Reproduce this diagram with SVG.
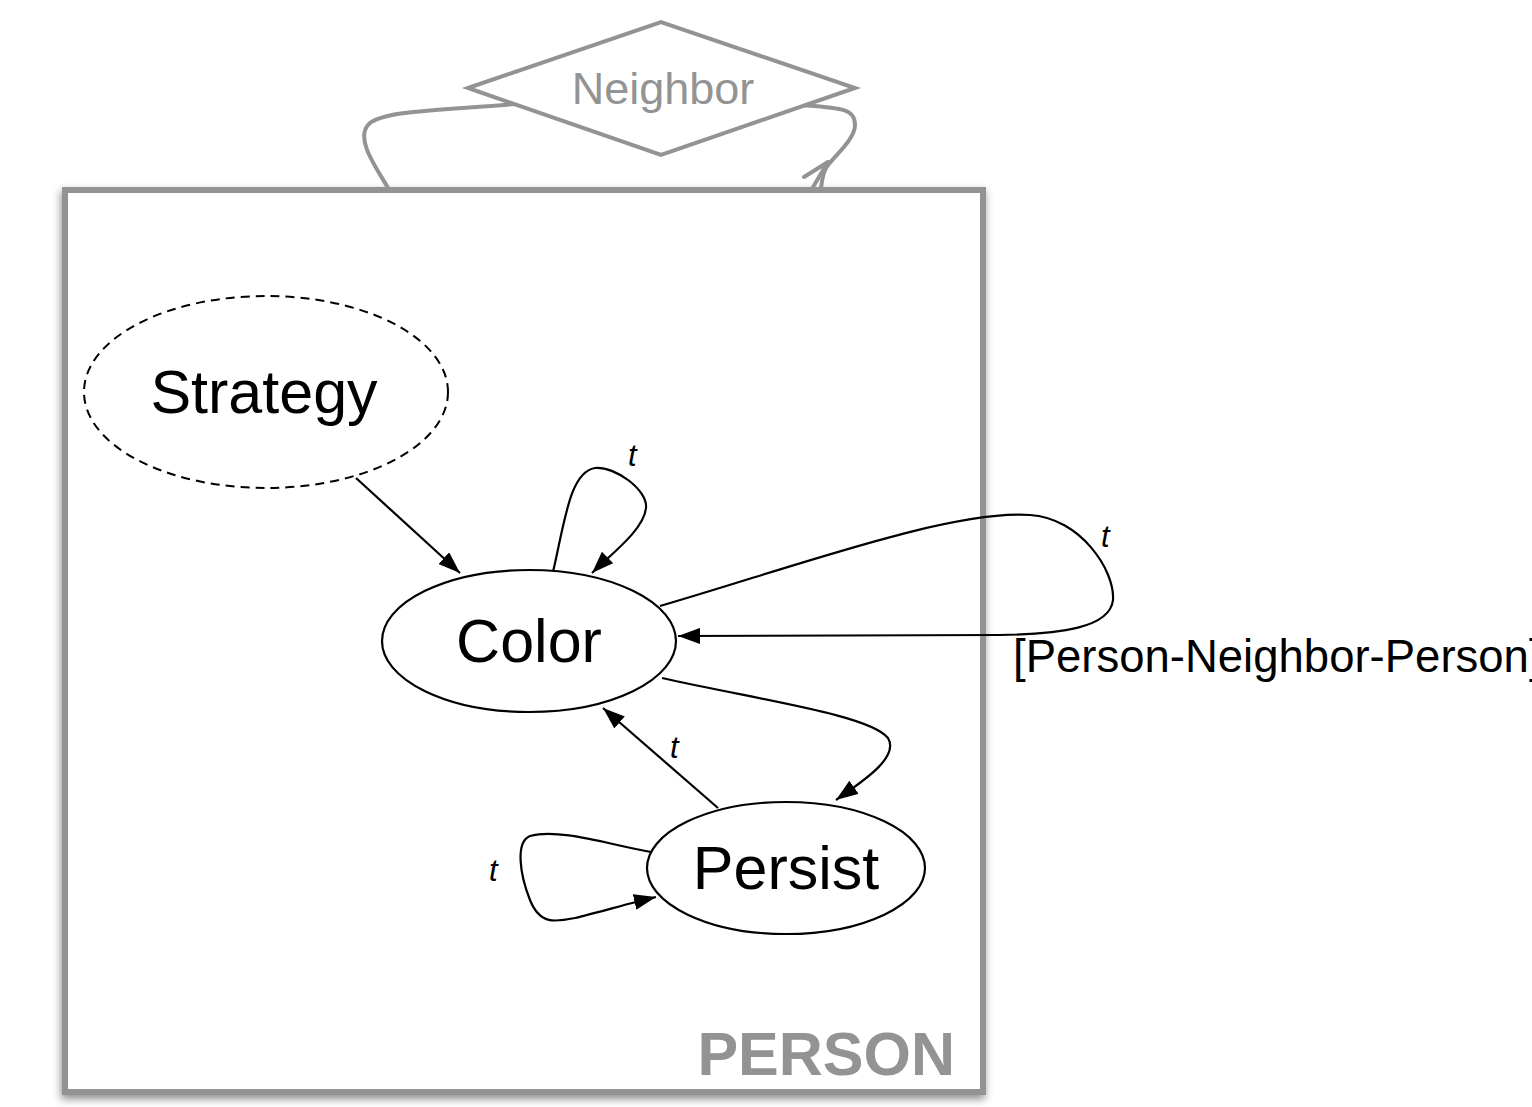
<svg xmlns="http://www.w3.org/2000/svg" width="1532" height="1107" viewBox="0 0 1532 1107">
<style>
.edge{fill:none;stroke:#000;stroke-width:2.2}
.gedge{fill:none;stroke:#939393;stroke-width:4}
.lbl{font-family:"Liberation Sans",Arial,sans-serif;font-style:italic;font-size:31px;fill:#000}
.node{fill:#fff;stroke:#000;stroke-width:2.2}
.ntext{font-family:"Liberation Sans",Arial,sans-serif;font-size:61px;fill:#000;text-anchor:middle}
</style>
<defs>
<marker id="ah" viewBox="0 0 22 16" refX="22" refY="8" markerWidth="22" markerHeight="16" markerUnits="userSpaceOnUse" orient="auto">
<path d="M0,0 L22,8 L0,16 z" fill="#000"/>
</marker>
<filter id="sh" x="-5%" y="-5%" width="110%" height="110%">
<feDropShadow dx="-1" dy="4" stdDeviation="4" flood-color="#000" flood-opacity="0.45"/>
</filter>
</defs>
<rect width="1532" height="1107" fill="#fff"/>
<g id="person">
<rect x="65" y="190" width="918" height="902" fill="#fff" stroke="#939393" stroke-width="6" filter="url(#sh)"/>
<text x="955" y="1075" font-family="'Liberation Sans',Arial,sans-serif" font-weight="bold" font-size="61" fill="#939393" text-anchor="end">PERSON</text>
</g>
<g id="connectors">
<path class="gedge" d="M515,104 C450,110 380,110 368,125 C355,140 378,170 388,188"/>
<path class="gedge" d="M800,105 C840,108 855,108 855,125 C855,140 832,158 826,168 C822,176 822,182 821,188"/>
<path class="gedge" d="M804,177 L828,162 M813,187 L828,162" stroke-linecap="round"/>
<path class="edge" d="M356,478 L460,573" marker-end="url(#ah)"/>
<path class="edge" d="M553,572 C565,520 570,472 595,468 C615,466 648,490 646,508 C644,530 610,555 592,573" marker-end="url(#ah)"/>
<path class="edge" d="M660,606 C800,565 950,510 1030,515 C1080,518 1115,570 1113,600 C1110,628 1060,634 1000,635 L678,636" marker-end="url(#ah)"/>
<path class="edge" d="M662,678 C760,700 870,715 888,738 C900,758 860,783 836,800" marker-end="url(#ah)"/>
<path class="edge" d="M718,808 L603,708" marker-end="url(#ah)"/>
<path class="edge" d="M651,852 C610,845 560,828 530,836 C515,842 520,875 530,900 C540,925 555,922 575,918 C600,912 630,903 656,897" marker-end="url(#ah)"/>
<text class="lbl" x="628" y="466">t</text>
<text class="lbl" x="1101" y="547">t</text>
<text class="lbl" x="670" y="758">t</text>
<text class="lbl" x="489" y="881">t</text>
<text x="1013" y="672" font-family="'Liberation Sans',Arial,sans-serif" font-size="45.5" fill="#000">[Person-Neighbor-Person]</text>
</g>
<g id="neighbor">
<polygon points="468,88 661,22 855,88 661,155" fill="#fff" stroke="#939393" stroke-width="4"/>
<text x="663" y="104" font-family="'Liberation Sans',Arial,sans-serif" font-size="45" fill="#939393" text-anchor="middle">Neighbor</text>
</g>
<g id="strategy">
<ellipse cx="266" cy="392" rx="182" ry="96" fill="#fff" stroke="#000" stroke-width="2" stroke-dasharray="9,6"/>
<text class="ntext" x="264" y="413">Strategy</text>
</g>
<g id="color">
<ellipse class="node" cx="529" cy="641" rx="147" ry="71"/>
<text class="ntext" x="529" y="662">Color</text>
</g>
<g id="persist">
<ellipse class="node" cx="786" cy="868" rx="139" ry="66"/>
<text class="ntext" x="786" y="889">Persist</text>
</g>
</svg>
